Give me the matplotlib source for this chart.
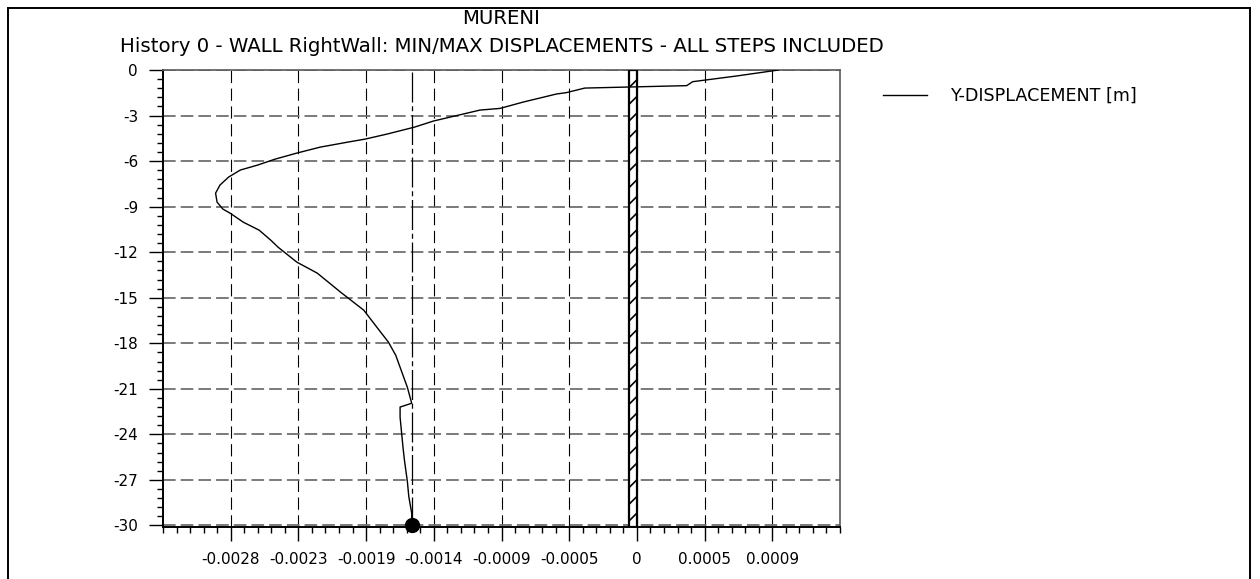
import matplotlib
matplotlib.use("Agg")
import matplotlib.pyplot as plt
from matplotlib.lines import Line2D
from matplotlib.patches import Rectangle
from matplotlib.ticker import FixedLocator, MultipleLocator

# Wall displacement profile: depth [m] and Y-displacement [m]
depth = [0.00, -0.40, -0.77, -1.03, -1.19, -1.49, -1.58, -2.11, -2.53, -2.64,
         -3.36, -3.76, -4.22, -4.55, -4.75, -5.08, -5.47, -5.87, -6.26, -6.59,
         -7.05, -7.58, -8.11, -8.70, -9.16, -9.43, -10.02, -10.55, -11.21, -11.67,
         -12.66, -13.38, -14.63, -15.82, -16.94, -17.93, -18.79, -19.58, -20.90,
         -21.95, -22.20, -22.87, -23.86, -24.85, -25.71, -27.10, -28.10, -29.20,
         -30.00]
y_disp = [0.000975, 0.000682, 0.000384, 0.000343, -0.000359, -0.000485, -0.000553,
          -0.000782, -0.000942, -0.00108, -0.00140, -0.00153, -0.00172, -0.00187,
          -0.00199, -0.00218, -0.00234, -0.00249, -0.00261, -0.00273, -0.00281,
          -0.00287, -0.00290, -0.00289, -0.00285, -0.00280, -0.00271, -0.00260,
          -0.00252, -0.00247, -0.00234, -0.00220, -0.00204, -0.00188, -0.00179,
          -0.00171, -0.00166, -0.00163, -0.00158, -0.00155, -0.00163, -0.00163,
          -0.00162, -0.00161, -0.00160, -0.00158, -0.00157, -0.00155, -0.00155]

# Displacement at the wall toe (marked by the dot and the dash-dot reference)
toe_depth = -30.0
toe_disp = -0.00155

# Wall section drawn at the origin
wall_left = -0.000055
wall_right = 0.0
wall_top = 0.0
wall_bottom = -30.1

# Axis ticks
x_step = 0.000466
x_tick_values = [k * x_step for k in range(-6, 3)]
x_tick_labels = ["-0.0028", "-0.0023", "-0.0019", "-0.0014", "-0.0009",
                 "-0.0005", "0", "0.0005", "0.0009"]
y_tick_values = [0, -3, -6, -9, -12, -15, -18, -21, -24, -27, -30]
y_tick_labels = ["0", "-3", "-6", "-9", "-12", "-15", "-18", "-21", "-24",
                 "-27", "-30"]

title_main = "MURENI"
title_sub = "History 0 - WALL RightWall: MIN/MAX DISPLACEMENTS - ALL STEPS INCLUDED"
series_label = "Y-DISPLACEMENT [m]"

plt.rcParams["font.family"] = ["DejaVu Sans"]
plt.rcParams["hatch.linewidth"] = 1.2

fig = plt.figure(figsize=(12.6, 5.79), dpi=100)
fig.patch.set_facecolor("white")
ax = fig.add_axes([163 / 1260, 1 - 527 / 579, (840 - 163) / 1260, (527 - 70) / 579])

ax.set_xlim(-7 * x_step, 3 * x_step)
ax.set_ylim(wall_bottom, 0)

# Grid: grey dashed horizontals, thin black dashed verticals
ax.set_axisbelow(True)
ax.grid(axis="y", which="major", color="#6f6f6f", linewidth=1.3,
        linestyle=(0, (7.0, 2.8)))
ax.grid(axis="x", which="major", color="black", linewidth=0.8,
        linestyle=(0, (11.0, 5.0)))

# Wall
ax.add_patch(Rectangle((wall_left, wall_bottom), wall_right - wall_left,
                       wall_top - wall_bottom, facecolor="white",
                       edgecolor="black", linewidth=1.6, hatch="//", zorder=3))

# Toe reference line and displacement curve
ax.axvline(toe_disp, color="black", linewidth=0.9,
           linestyle=(0, (24, 3, 4, 3)), zorder=2)
ax.plot(y_disp, depth, color="black", linewidth=1.0, zorder=4,
        label=series_label)
ax.plot([toe_disp], [toe_depth], marker="o", markersize=10,
        color="black", zorder=5, clip_on=False)

# Ticks
ax.xaxis.set_major_locator(FixedLocator(x_tick_values))
ax.set_xticklabels(x_tick_labels)
ax.xaxis.set_minor_locator(MultipleLocator(x_step / 5))
ax.yaxis.set_major_locator(FixedLocator(y_tick_values))
ax.set_yticklabels(y_tick_labels)
ax.yaxis.set_minor_locator(MultipleLocator(0.6))
ax.tick_params(which="major", direction="out", length=10, width=1.0,
               labelsize=11, pad=8, colors="black")
ax.tick_params(which="minor", direction="out", length=4.3, width=1.0)

for side in ("left", "bottom"):
    ax.spines[side].set_color("black")
    ax.spines[side].set_linewidth(1.4)
for side in ("top", "right"):
    ax.spines[side].set_color("#5a5a5a")
    ax.spines[side].set_linewidth(1.2)

# Titles
cx = (163 + 840) / 2 / 1260
fig.text(cx, 1 - 18 / 579, title_main, ha="center", va="center", fontsize=14.2)
fig.text(cx, 1 - 47 / 579, title_sub, ha="center", va="center", fontsize=14.2)

# Legend outside the plot area
ax.legend(loc="center left", bbox_to_anchor=(883 / 1260, 1 - 96 / 579),
          bbox_transform=fig.transFigure, frameon=False, fontsize=12.6,
          handlelength=2.52, handletextpad=1.32, borderpad=0,
          borderaxespad=0)

# Page frame
frame_kw = dict(color="black", linewidth=1.4, transform=fig.transFigure)
fig.add_artist(Line2D([8 / 1260, 8 / 1260], [0, 1 - 8 / 579], **frame_kw))
fig.add_artist(Line2D([8 / 1260, 1250 / 1260], [1 - 8 / 579, 1 - 8 / 579], **frame_kw))
fig.add_artist(Line2D([1250 / 1260, 1250 / 1260], [0, 1 - 8 / 579], **frame_kw))

fig.savefig("out.png", dpi=100, facecolor="white")
